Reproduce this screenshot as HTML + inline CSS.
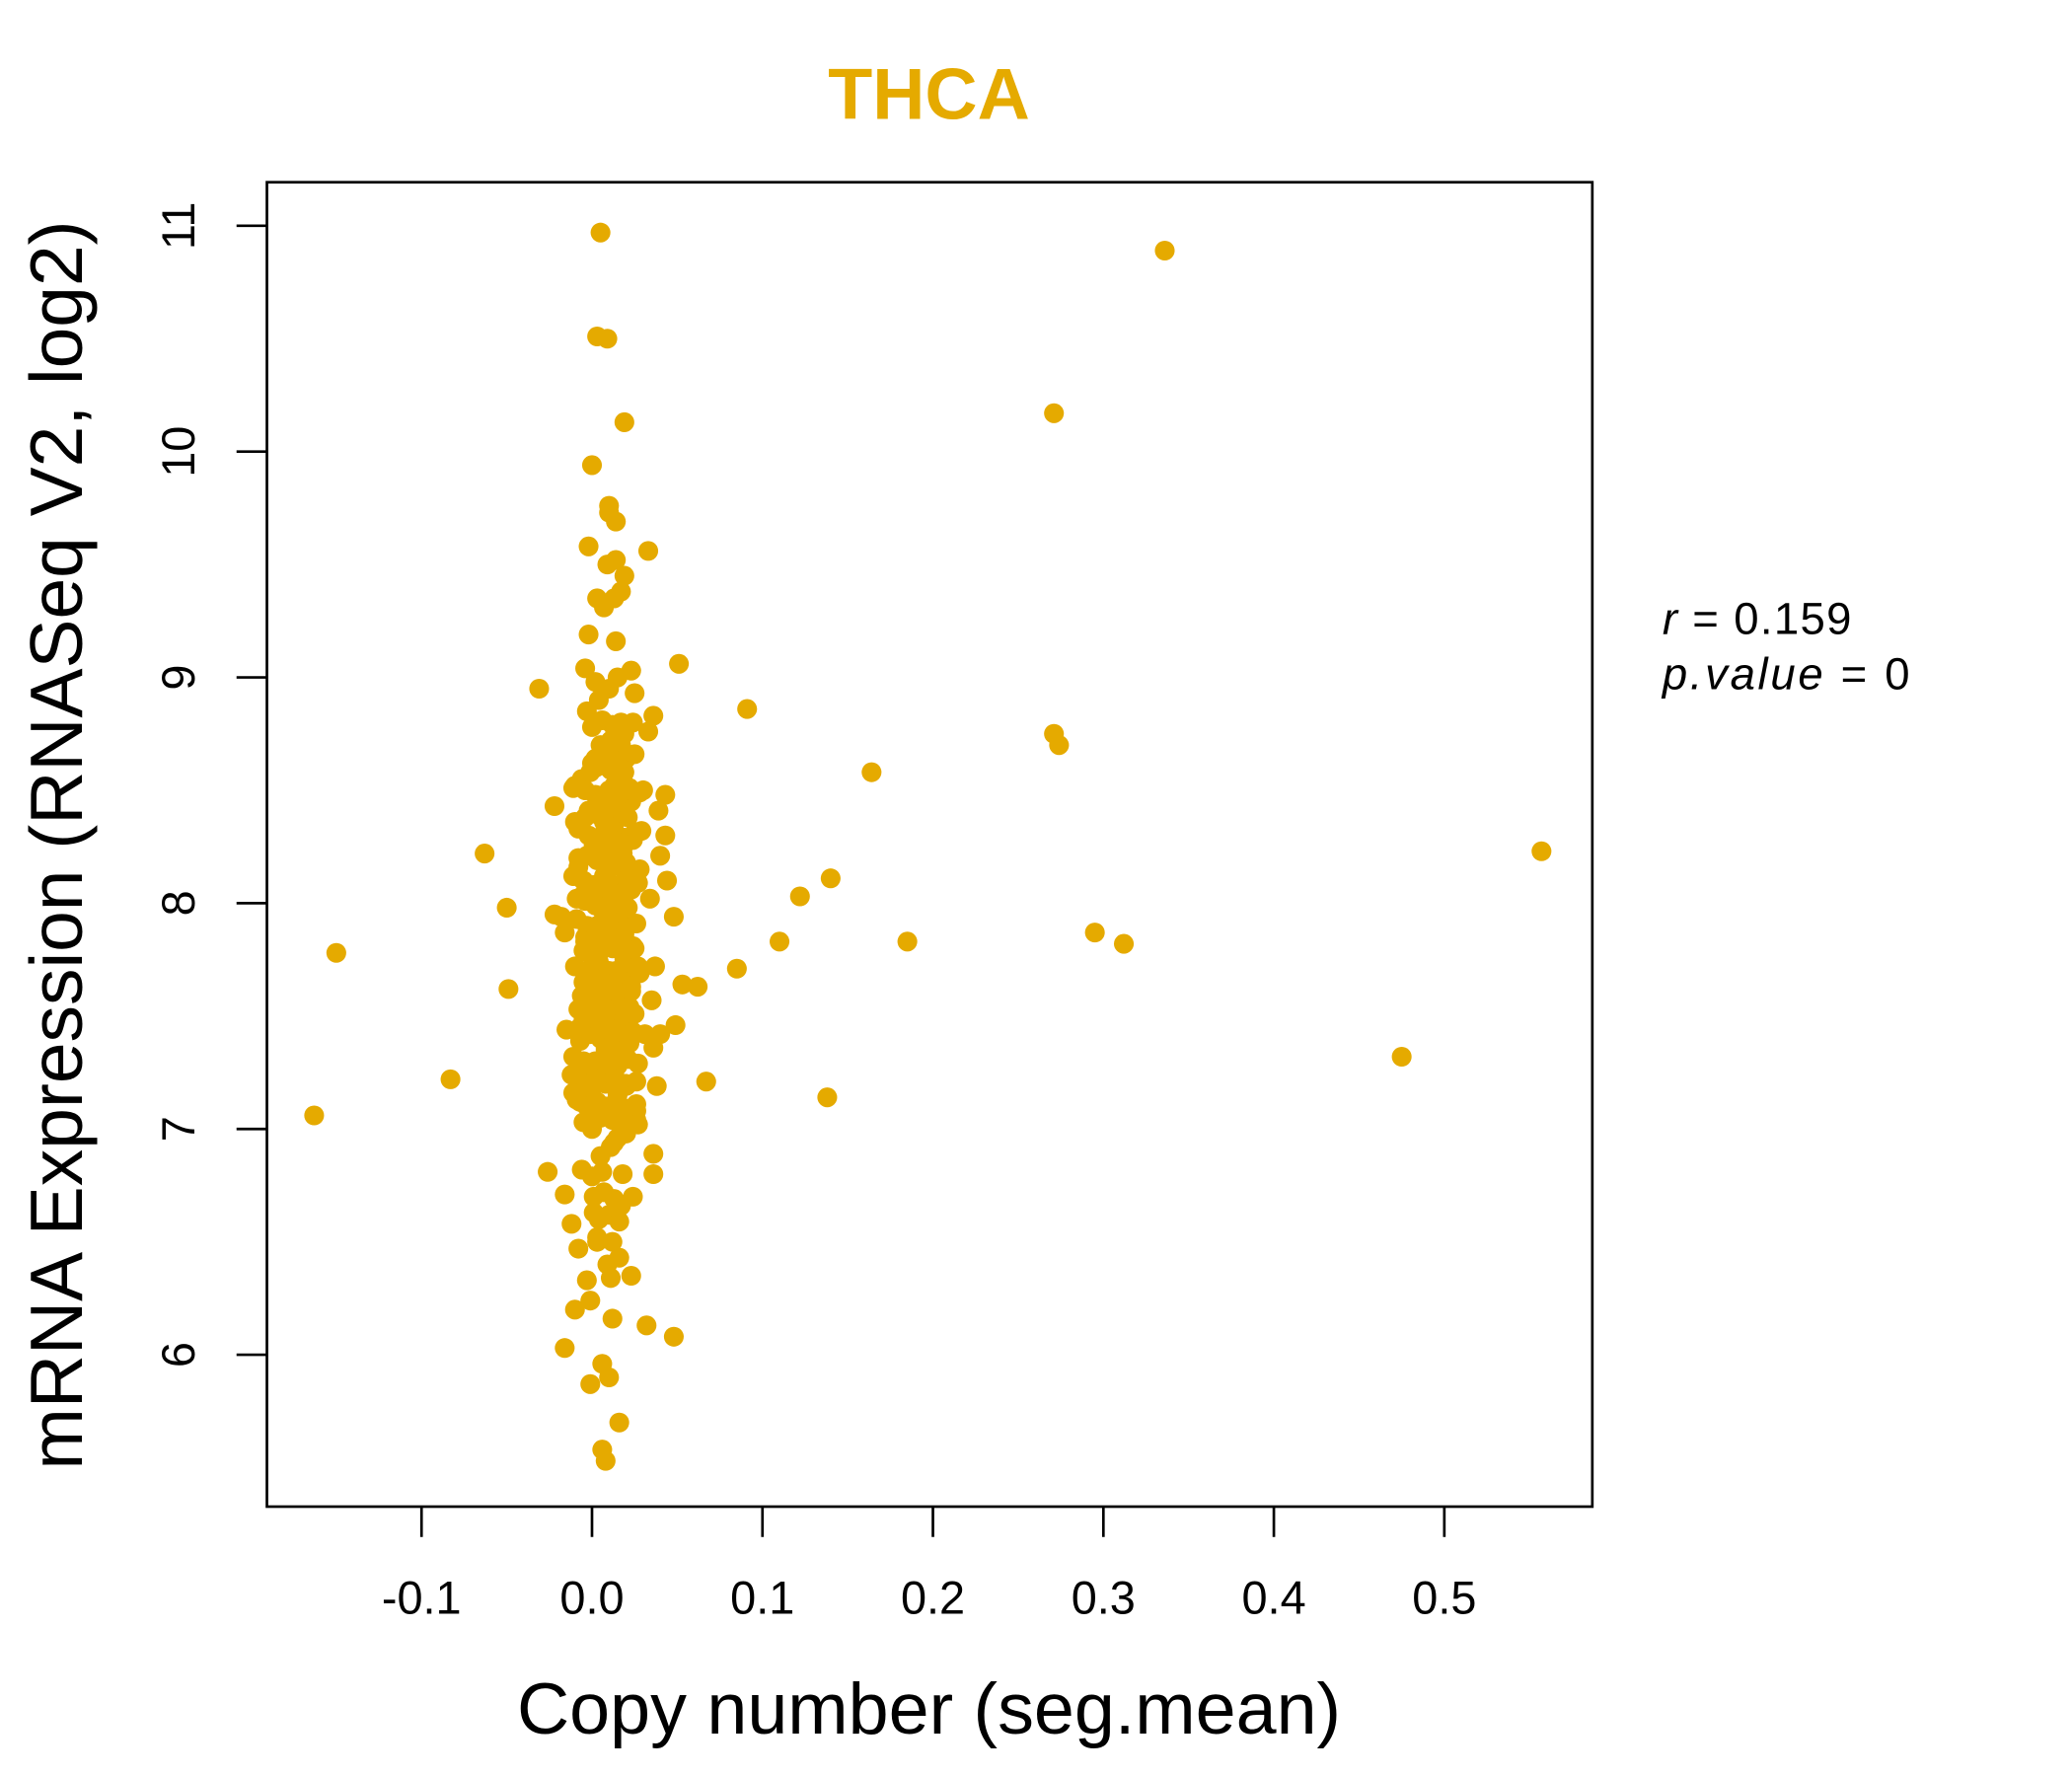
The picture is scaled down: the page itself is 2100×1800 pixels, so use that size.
<!DOCTYPE html>
<html><head><meta charset="utf-8"><style>html,body{margin:0;padding:0;background:#fff}svg{display:block}</style></head>
<body>
<svg id="chart" width="2100" height="1800" viewBox="0 0 1568 1345" preserveAspectRatio="none" xmlns="http://www.w3.org/2000/svg" font-family="Liberation Sans, sans-serif">
<text x="703" y="90" text-anchor="middle" font-size="55" font-weight="bold" fill="#E5AA00">THCA</text>
<rect x="202" y="138" width="1003" height="1003" fill="none" stroke="#000" stroke-width="2"/>
<g id="xaxis"></g>
<g id="yaxis"></g>
<g id="points"></g>
<text x="703" y="1313" text-anchor="middle" font-size="55">Copy number (seg.mean)</text>
<text transform="translate(62,640) rotate(-90)" text-anchor="middle" font-size="56">mRNA Expression (RNASeq V2, log2)</text>
<text x="1258" y="480" font-size="34" letter-spacing="1"><tspan font-style="italic">r</tspan> = 0.159</text>
<text x="1258" y="522" font-size="34" letter-spacing="2"><tspan font-style="italic">p.value</tspan> = 0</text>
</svg>
<script>
const xTicks=[-0.1,0,0.1,0.2,0.3,0.4,0.5];
const xTickLabels=["-0.1","0.0","0.1","0.2","0.3","0.4","0.5"];
const yTicks=[6,7,8,9,10,11];
const yTickLabels=["6","7","8","9","10","11"];
const xVals=[-0.163,-0.150,-0.083,-0.063,-0.050,-0.049,-0.031,-0.026,-0.022,0.336,0.271,0.271,0.274,0.557,0.475,0.295,0.312,0.185,0.164,0.140,0.138,0.122,0.110,0.091,0.085,0.067,0.062,0.051,0.053,0.048,0.049,0.048,0.032,
0.005,0.003,0.009,0.019,0.0,0.010,0.010,0.014,-0.002,0.033,0.014,0.009,0.019,0.003,0.017,0.013,0.007,-0.002,0.014,
0.008,0.006,0.016,-0.001,0.010,0.006,-0.016,0.012,-0.010,-0.001,0.023,0.011,-0.003,0.016,-0.008,0.003,-0.012,0.001,0.017,0.024,-0.016,0.036,0.036,0.027,0.038,0.036,0.040,0.035,0.037,0.034,0.044,0.040,0.043,0.039,0.043,0.036,0.033,0.023,0.025,0.017,0.020,-0.011,-0.018,-0.022,-0.016,-0.015,-0.012,-0.011,
0.000,0.005,0.010,0.015,0.020,-0.005,0.002,0.008,0.012,0.018,0.022,0.000,0.004,0.009,0.014,0.019,0.025,-0.004,0.003,0.007,0.011,0.016,0.021,0.028,-0.008,0.001,0.006,0.013,0.017,0.023,0.030,-0.006,0.002,0.008,0.012,0.019,0.024,-0.003,0.004,0.010,0.015,0.020,0.026,-0.007,0.000,0.006,0.011,0.017,0.022,0.031,-0.005,0.003,0.009,0.014,0.018,0.027,-0.002,0.005,0.010,0.016,0.021,-0.009,0.001,0.007,0.012,0.018,0.024,0.029,-0.004,0.003,0.008,0.013,0.019,0.000,0.006,0.011,0.015,0.020,0.026,-0.006,0.002,0.009,0.014,0.022,-0.003,0.004,0.010,0.016,0.023,-0.008,0.001,0.007,0.012,0.018,0.025,0.005,0.013,0.019,-0.001,0.008,0.015,0.002,0.010,0.017,
-0.010,-0.004,0.002,0.008,0.014,0.020,0.026,-0.009,-0.003,0.003,0.009,0.015,0.021,0.027,-0.011,-0.005,0.001,0.007,0.013,0.019,0.025,-0.008,-0.002,0.004,0.010,0.016,0.022,0.028,-0.010,-0.004,0.002,0.008,0.014,0.020,0.026,-0.009,-0.003,0.003,0.009,0.015,0.021,0.027,-0.011,-0.005,0.001,0.007,0.013,0.019,0.025,-0.008,-0.002,0.004,0.010,0.016,0.022,0.028,-0.010,-0.004,0.002,0.008,0.014,0.020,0.026,-0.009,-0.003,0.003,0.009,0.015,0.021,-0.007,-0.001,0.005,0.011,0.017,0.023,-0.006,0.000,0.006,0.012,0.018,0.024,-0.005,0.001,0.007,0.013,0.019,-0.004,0.002,0.008,0.014,0.020,-0.003,0.003,0.009,0.015,0.021,-0.002,0.004,0.010,0.016,-0.001,0.005,0.011,0.017,0.000,0.006,0.012,0.018,
-0.006,0.000,0.006,0.012,0.018,0.024,-0.007,-0.001,0.005,0.011,0.017,0.023,-0.005,0.001,0.007,0.013,0.019,-0.004,0.002,0.008,0.014,0.020,-0.006,0.000,0.006,0.012,0.018,-0.005,0.001,0.007,0.013,0.019,0.003,0.009,0.015,0.001,0.007,0.013,0.004,0.010,0.016,0.002,0.008,0.014,0.005,0.011,0.006,0.012,0.003,0.009];
const yVals=[7.06,7.78,7.22,8.22,7.98,7.62,8.95,6.81,8.43,10.89,10.17,8.75,8.70,8.23,7.32,7.87,7.82,7.83,8.58,8.11,7.14,8.03,7.83,8.86,7.71,7.21,7.63,9.06,7.64,7.94,7.46,6.08,6.13,
10.97,10.51,10.50,10.13,9.94,9.76,9.73,9.69,9.58,9.56,9.52,9.50,9.45,9.35,9.38,9.35,9.31,9.19,9.16,
5.53,5.58,5.70,5.87,5.90,5.96,6.03,6.16,6.20,6.24,6.35,6.34,6.33,6.43,6.47,6.50,6.58,6.63,6.66,6.70,6.71,6.80,6.89,7.02,7.19,7.36,7.42,7.57,7.72,8.02,8.10,8.21,8.30,8.41,8.48,8.83,8.76,9.03,8.93,8.70,8.64,8.51,7.94,7.95,7.87,7.44,7.24,7.16,
7.00,7.05,7.10,7.15,7.20,7.25,7.30,7.35,7.40,7.45,7.50,7.55,7.60,7.65,7.70,7.75,7.80,7.85,7.90,7.95,8.00,8.05,8.10,8.15,8.20,8.25,8.30,8.35,8.40,8.45,8.50,8.55,8.60,8.65,8.70,8.75,8.80,8.85,8.90,8.95,9.00,7.02,7.08,7.12,7.18,7.22,7.28,7.32,7.38,7.42,7.48,7.52,7.58,7.62,7.68,7.72,7.78,7.82,7.88,7.92,7.98,8.02,8.08,8.12,8.18,8.22,8.28,8.32,8.38,8.42,8.48,8.52,8.58,8.62,8.68,6.92,6.96,6.98,7.04,7.14,7.26,7.34,7.46,7.54,7.66,7.74,7.86,7.96,8.06,8.16,8.26,8.36,8.46,8.56,8.66,6.88,6.94,7.06,7.16,7.36,7.56,7.76,7.96,8.16,8.36,9.04,8.98,
7.10,7.12,7.09,7.11,7.13,7.10,7.12,7.30,7.28,7.31,7.29,7.32,7.30,7.28,7.50,7.52,7.49,7.51,7.53,7.50,7.48,7.70,7.68,7.71,7.69,7.72,7.70,7.68,7.90,7.92,7.89,7.91,7.93,7.90,7.88,8.10,8.08,8.11,8.09,8.12,8.10,8.08,8.30,8.32,8.29,8.31,8.33,8.30,8.28,8.50,8.48,8.51,8.49,8.52,8.50,8.48,7.20,7.22,7.19,7.21,7.23,7.20,7.22,7.40,7.38,7.41,7.39,7.42,7.40,7.60,7.58,7.61,7.59,7.62,7.60,7.80,7.78,7.81,7.79,7.82,7.80,8.00,7.98,8.01,7.99,8.02,8.20,8.18,8.21,8.19,8.22,8.40,8.38,8.41,8.39,8.42,8.60,8.58,8.61,8.59,8.80,8.78,8.81,8.79,6.80,6.82,6.79,6.81,
7.44,7.46,7.43,7.45,7.47,7.44,7.64,7.66,7.63,7.65,7.67,7.64,7.84,7.86,7.83,7.85,7.87,8.04,8.06,8.03,8.05,8.07,7.04,7.06,7.03,7.05,7.07,8.24,8.26,8.23,8.25,8.27,6.70,6.72,6.69,6.60,6.62,6.59,8.64,8.66,8.63,8.70,8.72,8.69,6.50,6.52,6.40,6.42,8.90,8.88];
const svg=document.getElementById('chart');
const NS="http://www.w3.org/2000/svg";
const sx=v=>448+v*1290;
const sy=v=>171+(11-v)*171;
const xa=document.getElementById('xaxis'),ya=document.getElementById('yaxis'),pg=document.getElementById('points');
function mk(t,a,p){const e=document.createElementNS(NS,t);for(const k in a)e.setAttribute(k,a[k]);p.appendChild(e);return e;}
xTicks.forEach((v,i)=>{
  const l=mk('line',{x1:sx(v),x2:sx(v),y1:1141,y2:1164,stroke:'#000','stroke-width':2},xa);
  
  
  const t=mk('text',{x:sx(v),y:1222,'text-anchor':'middle','font-size':35},xa);
  t.textContent=xTickLabels[i];
  
  
});
yTicks.forEach((v,i)=>{
  const l=mk('line',{x1:179,x2:202,y1:sy(v),y2:sy(v),stroke:'#000','stroke-width':2},ya);
  
  
  const t=mk('text',{transform:`translate(147,${sy(v)}) rotate(-90)`,'text-anchor':'middle','font-size':35},ya);
  t.textContent=yTickLabels[i];
  
  
});
const n=Math.min(xVals.length,yVals.length);
for(let i=0;i<n;i++){
  const c=mk('circle',{cx:sx(xVals[i]),cy:sy(yVals[i]),r:7.5,fill:'#E5AA00'},pg);
  
  
}
</script>
</body></html>
